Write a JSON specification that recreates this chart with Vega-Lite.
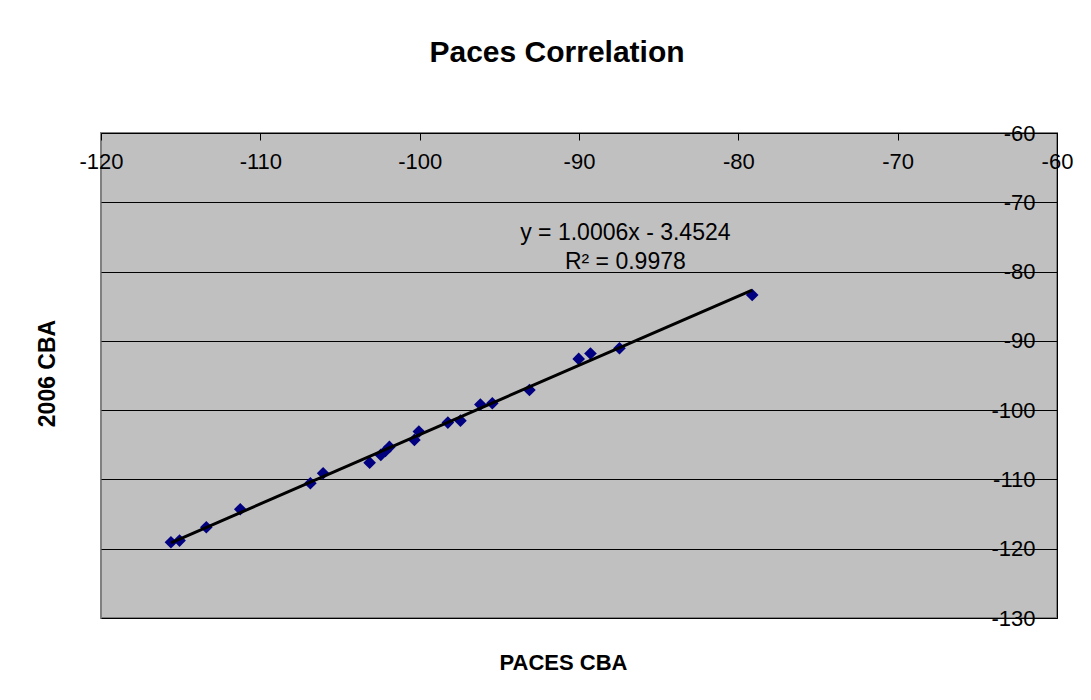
{
  "$schema": "https://vega.github.io/schema/vega-lite/v6.json",
  "width": 956,
  "height": 485,
  "autosize": "none",
  "padding": {"left": 101, "top": 133, "right": 34, "bottom": 82},
  "background": "white",
  "config": {
    "view": {"fill": "#C0C0C0", "stroke": "#808080", "strokeWidth": 2},
    "font": "Liberation Sans"
  },
  "title": {
    "text": "Paces Correlation",
    "font": "Liberation Sans",
    "fontSize": 30,
    "fontWeight": "bold",
    "color": "black",
    "anchor": "middle",
    "frame": "group",
    "dx": -22,
    "offset": 54
  },
  "data": {
    "values": [
      {"paces": -115.61, "cba2006": -119.06},
      {"paces": -115.07, "cba2006": -118.83},
      {"paces": -113.39, "cba2006": -116.90},
      {"paces": -111.26, "cba2006": -114.30},
      {"paces": -106.86, "cba2006": -110.55},
      {"paces": -106.06, "cba2006": -109.11},
      {"paces": -103.14, "cba2006": -107.58},
      {"paces": -102.44, "cba2006": -106.46},
      {"paces": -102.15, "cba2006": -105.89},
      {"paces": -101.90, "cba2006": -105.31},
      {"paces": -100.33, "cba2006": -104.30},
      {"paces": -100.05, "cba2006": -103.10},
      {"paces": -98.23, "cba2006": -101.80},
      {"paces": -97.44, "cba2006": -101.52},
      {"paces": -96.19, "cba2006": -99.18},
      {"paces": -95.44, "cba2006": -99.00},
      {"paces": -93.11, "cba2006": -97.09},
      {"paces": -90.02, "cba2006": -92.61},
      {"paces": -89.28, "cba2006": -91.82},
      {"paces": -87.46, "cba2006": -91.07},
      {"paces": -79.13, "cba2006": -83.38}
    ]
  },
  "layer": [
    {
      "mark": {"type": "point", "shape": "diamond", "filled": true, "color": "#000080", "size": 160, "opacity": 1},
      "encoding": {
        "x": {
          "field": "paces",
          "type": "quantitative",
          "scale": {"domain": [-120, -60], "nice": false, "zero": false},
          "axis": {
            "orient": "bottom",
            "offset": -485,
            "values": [-120, -110, -100, -90, -80, -70, -60],
            "labelExpr": "'' + datum.value",
            "labelFlush": false,
            "labelOverlap": false,
            "grid": false,
            "domainColor": "black",
            "domainWidth": 1,
            "tickColor": "black",
            "tickSize": 7,
            "labelFont": "Liberation Sans",
            "labelFontSize": 22,
            "labelColor": "black",
            "labelPadding": 11,
            "title": "PACES CBA",
            "titleFont": "Liberation Sans",
            "titleFontSize": 22,
            "titleFontWeight": "bold",
            "titleColor": "black",
            "titleX": 462,
            "titleY": 529,
            "titleAlign": "center",
            "titleBaseline": "middle"
          }
        },
        "y": {
          "field": "cba2006",
          "type": "quantitative",
          "scale": {"domain": [-130, -60], "nice": false, "zero": false},
          "axis": {
            "orient": "left",
            "offset": -956,
            "values": [-130, -120, -110, -100, -90, -80, -70, -60],
            "labelExpr": "'' + datum.value",
            "labelFlush": false,
            "labelOverlap": false,
            "grid": true,
            "gridColor": "black",
            "gridWidth": 1,
            "gridOpacity": 1,
            "domainColor": "black",
            "domainWidth": 1,
            "tickColor": "black",
            "tickSize": 7,
            "labelFont": "Liberation Sans",
            "labelFontSize": 22,
            "labelColor": "black",
            "labelPadding": 15,
            "title": "2006 CBA",
            "titleFont": "Liberation Sans",
            "titleFontSize": 23,
            "titleFontWeight": "bold",
            "titleColor": "black",
            "titleX": -1010,
            "titleY": 240,
            "titleAlign": "center",
            "titleBaseline": "middle"
          }
        }
      }
    },
    {
      "transform": [{"regression": "cba2006", "on": "paces"}],
      "mark": {"type": "line", "color": "black", "strokeWidth": 3},
      "encoding": {
        "x": {"field": "paces", "type": "quantitative"},
        "y": {"field": "cba2006", "type": "quantitative"}
      }
    },
    {
      "data": {"values": [{"label": "y = 1.0006x - 3.4524"}]},
      "mark": {"type": "text", "font": "Liberation Sans", "fontSize": 23, "color": "black", "align": "center", "baseline": "middle"},
      "encoding": {
        "x": {"datum": -87.09, "type": "quantitative"},
        "y": {"datum": -74.43, "type": "quantitative"},
        "text": {"field": "label"}
      }
    },
    {
      "data": {"values": [{"label": "R² = 0.9978"}]},
      "mark": {"type": "text", "font": "Liberation Sans", "fontSize": 23, "color": "black", "align": "center", "baseline": "middle"},
      "encoding": {
        "x": {"datum": -87.09, "type": "quantitative"},
        "y": {"datum": -78.6, "type": "quantitative"},
        "text": {"field": "label"}
      }
    }
  ]
}
